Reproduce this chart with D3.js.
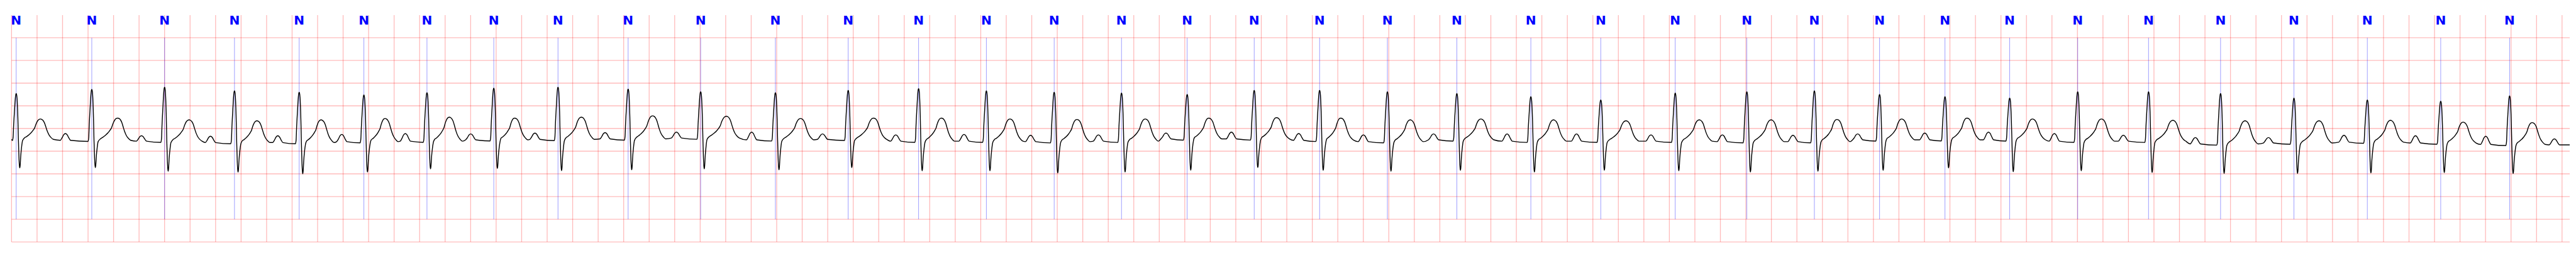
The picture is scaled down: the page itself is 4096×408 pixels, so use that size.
<!DOCTYPE html>
<html><head><meta charset="utf-8">
<script src="https://cdn.jsdelivr.net/npm/d3@7"></script>
<style>html,body{margin:0;padding:0;background:#fff;overflow:hidden}</style>
</head><body><svg id="chart"></svg>
<script>
// ---- data (time in s, amplitude in mV) ----
const beatLabels = ["N","N","N","N","N","N","N","N","N","N","N","N","N","N","N","N","N","N","N","N","N","N","N","N","N","N","N","N","N","N","N","N","N","N","N","N","N"];
const rTimes = [0.0364,0.6292,1.2001,1.7482,2.2555,2.7629,3.2576,3.7815,4.2851,4.8350,5.4038,5.9899,6.5606,7.1127,7.6442,8.1759,8.7039,9.2187,9.7445,10.2574,10.7889,11.3335,11.9138,12.4621,13.0459,13.6074,14.1370,14.6483,15.1612,15.6686,16.2019,16.7575,17.3222,17.8977,18.4731,19.0486,19.5886];
const rPeaks = [0.77,0.86,0.91,0.83,0.80,0.74,0.79,0.89,0.91,0.87,0.81,0.79,0.84,0.88,0.83,0.80,0.78,0.75,0.84,0.84,0.81,0.77,0.70,0.63,0.78,0.81,0.83,0.75,0.70,0.67,0.81,0.81,0.77,0.67,0.63,0.60,0.72];
const sTroughs = [-0.87,-0.86,-0.94,-0.96,-1.00,-0.96,-0.89,-0.88,-0.93,-0.91,-0.89,-0.91,-0.86,-0.93,-0.93,-0.98,-0.96,-0.92,-0.86,-0.92,-0.94,-0.92,-0.96,-0.92,-0.93,-0.96,-0.94,-0.92,-0.87,-0.95,-0.93,-0.97,-0.99,-0.99,-0.98,-0.97,-0.99];
const tTimes = [0.2266,0.8326,1.3922,1.9237,2.4272,2.9292,3.4327,3.9457,4.4677,5.0274,5.6055,6.1877,6.7605,7.2919,7.8296,8.3548,8.8903,9.3885,9.9199,10.4235,10.9678,11.5223,12.0911,12.6599,13.2342,13.7976,14.3146,14.8216,15.3346,15.8475,16.3884,16.9477,17.5145,18.0938,18.6542,19.2243,19.7659];
const tPeaks = [0.21,0.23,0.19,0.17,0.19,0.22,0.25,0.23,0.25,0.28,0.27,0.22,0.23,0.23,0.21,0.20,0.21,0.23,0.24,0.23,0.19,0.21,0.19,0.17,0.19,0.19,0.20,0.21,0.23,0.21,0.21,0.18,0.17,0.17,0.18,0.14,0.13];
const baselines = [-0.24,-0.26,-0.28,-0.31,-0.31,-0.29,-0.28,-0.25,-0.24,-0.23,-0.21,-0.25,-0.24,-0.28,-0.28,-0.29,-0.28,-0.23,-0.23,-0.26,-0.29,-0.25,-0.28,-0.28,-0.28,-0.29,-0.29,-0.25,-0.25,-0.25,-0.28,-0.28,-0.34,-0.32,-0.30,-0.32,-0.35];
const pTimes = [0.4224,1.0190,1.5599,2.0879,2.5895,3.0878,3.6007,4.1042,4.6542,5.2138,5.8035,6.3594,6.9338,7.4690,7.9910,8.5227,9.0526,9.5655,10.0933,10.6006,11.1508,11.7273,12.2719,12.8557,13.4153,13.9690,14.4766,15.0027,15.5025,16.0189,16.5600,17.1247,17.6978,18.2899,18.8506,19.4016,19.9398];
const pPeaks = [-0.11,-0.16,-0.17,-0.16,-0.13,-0.11,-0.12,-0.10,-0.09,-0.08,-0.08,-0.12,-0.14,-0.13,-0.15,-0.14,-0.10,-0.08,-0.11,-0.14,-0.12,-0.12,-0.12,-0.14,-0.14,-0.15,-0.12,-0.10,-0.08,-0.11,-0.15,-0.20,-0.20,-0.15,-0.16,-0.17,-0.23];
const traceStart = [0, -0.24];
const traceEnd = [20.06, -0.36];
const qrsShape = [[-0.0295,"S",0.04],[-0.0241,"R",0.05],[-0.0201,"R",0.3],[-0.0134,"R",0.62],[-0.0067,"R",0.9],[-0.0027,"R",0.985],[0,"R",1],[0.0027,"R",0.985],[0.0067,"R",0.9],[0.0134,"R",0.45],[0.0174,"R",0],[0.0215,"S",0.6],[0.0255,"S",0.93],[0.0279,"S",1],[0.0309,"S",0.93],[0.0359,"S",0.57],[0.0421,"S",0.28],[0.0496,"S",0.05]];
// ST-T rise: [fraction of R->T interval, fraction of T height]
const stRise = [[0.34,0.07],[0.42,0.13],[0.52,0.22],[0.62,0.33],[0.70,0.45],[0.76,0.56],[0.82,0.76],[0.89,0.92],[0.95,0.985],[1.0,1.0]];
// T fall: [dt (s) after T peak, fraction of T height]
const tFall = [[0.0107,0.98],[0.0215,0.92],[0.0322,0.8],[0.0429,0.6],[0.0537,0.4],[0.0671,0.22],[0.0832,0.09],[0.1019,0]];
// P wave: [dt (s) from P peak, fraction of P height]
const pShape = [[-0.0402,0],[-0.0268,0.35],[-0.0134,0.82],[0,1],[0.0134,0.82],[0.0268,0.35],[0.0402,0]];
const gridTimes = d3.range(0, 100.5).map(i => i * 0.2);
const gridVolts = [-2.5,-2.0,-1.5,-1.0,-0.5,0,0.5,1.0,1.5,2.0];

// ---- build the trace points ----
const pts = [traceStart];
rTimes.forEach((r, i) => {
  const b = baselines[i];
  qrsShape.forEach(([dt, part, f]) => {
    const ref = part === "R" ? rPeaks[i] : sTroughs[i];
    pts.push([r + dt, b + f * (ref - b)]);
  });
  stRise.forEach(([f, v]) => pts.push([r + f * (tTimes[i] - r), b + v * (tPeaks[i] - b)]));
  tFall.forEach(([dt, v]) => pts.push([tTimes[i] + dt, b + v * (tPeaks[i] - b)]));
  const pb = i + 1 < baselines.length ? baselines[i + 1] : traceEnd[1];
  pShape.forEach(([dt, v]) => pts.push([pTimes[i] + dt, pb + v * (pPeaks[i] - pb)]));
});
pts.push(traceEnd);
pts.sort((a, b) => a[0] - b[0]);

// ---- drawing ----
const W = 7522, H = 750;
const svg = d3.select("#chart").attr("width", 4096).attr("height", 408)
  .attr("viewBox", `0 0 ${W} ${H}`).attr("preserveAspectRatio", "xMinYMin meet");
svg.append("rect").attr("width", W).attr("height", H).attr("fill", "#fff");

const x = d3.scaleLinear().domain([0, 20.06]).range([33.75, 7511]);
const y = d3.scaleLinear().domain([-2.5, 2.5]).range([706, 44]);

const grid = svg.append("g").attr("stroke", "rgb(255,0,0)").attr("stroke-opacity", 0.27).attr("stroke-width", 2.4);
grid.selectAll("line.v").data(gridTimes).join("line").attr("class", "v")
  .attr("x1", d => x(d)).attr("x2", d => x(d)).attr("y1", y(2.5)).attr("y2", y(-2.5));
grid.selectAll("line.h").data(gridVolts).join("line").attr("class", "h")
  .attr("x1", x(0)).attr("x2", x(20.06)).attr("y1", d => y(d)).attr("y2", d => y(d));

svg.append("g").attr("stroke", "blue").attr("stroke-opacity", 0.5).attr("stroke-width", 1.4)
  .selectAll("line").data(rTimes).join("line")
  .attr("x1", d => x(d)).attr("x2", d => x(d)).attr("y1", y(2.0)).attr("y2", y(-2.0));

const line = d3.line().x(d => x(d[0])).y(d => y(d[1])).curve(d3.curveMonotoneX);
svg.append("path").datum(pts).attr("d", line).attr("fill", "none")
  .attr("stroke", "#000").attr("stroke-width", 2.6).attr("stroke-linejoin", "round");

svg.append("g").selectAll("text").data(rTimes).join("text")
  .attr("x", d => x(d)).attr("y", y(2.5) + 27)
  .attr("text-anchor", "middle").attr("font-family", "DejaVu Sans")
  .attr("font-weight", "bold").attr("font-size", 37).attr("fill", "#0000ff")
  .text((d, i) => beatLabels[i]);
</script></body></html>
